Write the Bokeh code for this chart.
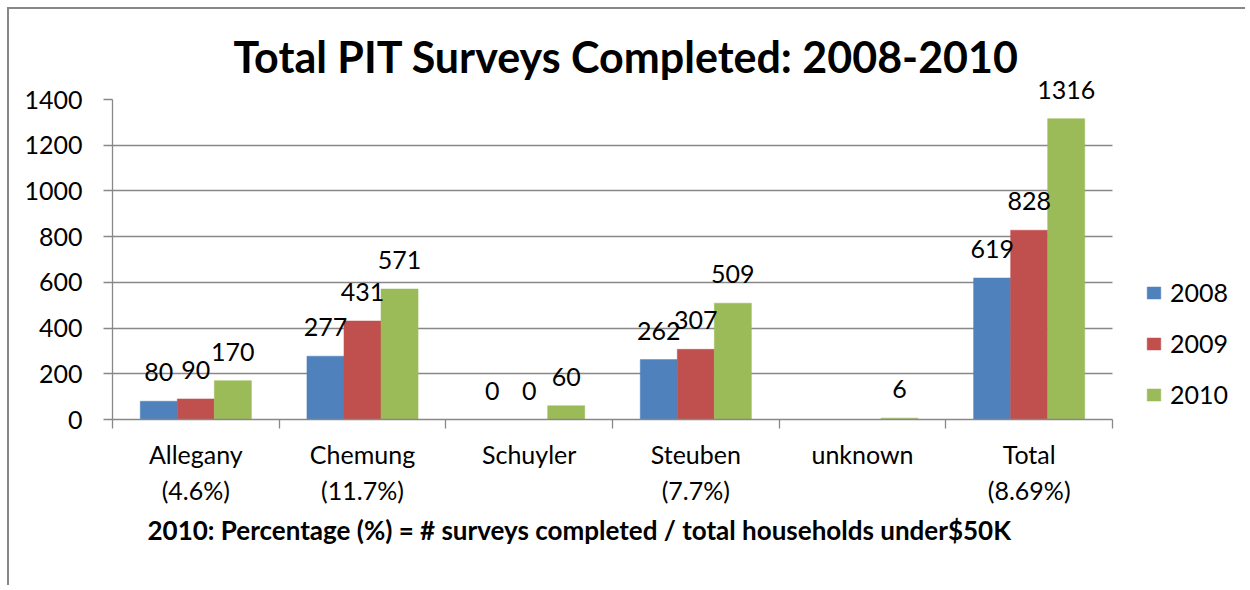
from bokeh.plotting import figure
from bokeh.models import (Range1d, FixedTicker, Legend, LegendItem, Title, ColumnDataSource)
from bokeh.core.properties import value
from bokeh.embed import file_html
from bokeh.resources import INLINE

# ---------------- data ----------------
categories = ["Allegany", "Chemung", "Schuyler", "Steuben", "unknown", "Total"]
percentages = ["(4.6%)", "(11.7%)", "", "(7.7%)", "", "(8.69%)"]
years = ["2008", "2009", "2010"]
s2008 = [80, 277, 0, 262, None, 619]
s2009 = [90, 431, 0, 307, None, 828]
s2010 = [170, 571, 60, 509, 6, 1316]
y_ticks = [0, 200, 400, 600, 800, 1000, 1200, 1400]
title_text = "Total PIT Surveys Completed: 2008-2010"
subtitle_text = "2010: Percentage (%) = # surveys completed / total households under$50K"

series = [s2008, s2009, s2010]
colors = ["#4F81BD", "#C0504D", "#9BBB59"]
FONT = "Lato"
GRAY = "#888888"

n = len(categories)
bw = 1 / 4.5  # bar width (gap width 150%)

W, H = 1238, 578
LEFT, TOP, BOTTOM = 103, 90, 168
PLOT_PX = 1000           # pixel width of the category area
frame_px = W - LEFT      # frame extends to the right edge to host the legend

p = figure(width=W, height=H, x_range=Range1d(0, n * frame_px / PLOT_PX), y_range=Range1d(0, 1400),
           output_backend="svg", toolbar_location=None,
           min_border_left=LEFT, min_border_right=0, min_border_top=TOP, min_border_bottom=BOTTOM)
p.styles = {"border-top": "2px solid #878787", "border-left": "2px solid #878787",
            "margin-left": "7px", "margin-top": "7px"}
p.outline_line_color = None
p.background_fill_color = "white"
p.border_fill_color = "white"

# title (above)
p.title = Title(text=title_text, align="left", offset=121, standoff=36,
                text_font=FONT, text_font_size="43px", text_font_style="bold", text_color="black")

# y axis
p.yaxis.ticker = FixedTicker(ticks=y_ticks, minor_ticks=[])
p.yaxis.major_tick_out = 9
p.yaxis.major_tick_in = 0
p.yaxis.major_tick_line_color = GRAY
p.yaxis.major_tick_line_width = 1.3
p.yaxis.axis_line_color = GRAY
p.yaxis.axis_line_width = 1.3
p.yaxis.minor_tick_line_color = None
p.yaxis.major_label_text_font = FONT
p.yaxis.major_label_text_font_size = "25px"
p.yaxis.major_label_text_color = "black"
p.yaxis.major_label_standoff = 21

# horizontal grid limited to the category area
p.xgrid.visible = False
grid = p.ygrid[0]
grid.ticker = FixedTicker(ticks=y_ticks)
if "cross_bounds" in grid.properties():
    grid.cross_bounds = (0, n)
    grid.grid_line_color = GRAY
    grid.grid_line_width = 1.3
else:
    grid.visible = False
    p.segment(x0=[0] * len(y_ticks), x1=[n] * len(y_ticks), y0=y_ticks, y1=y_ticks,
              line_color=GRAY, line_width=1.3, level="underlay")

# x axis: labels at category centres, tick marks at category boundaries
centers = [i + 0.5 for i in range(n)]
p.xaxis.bounds = (0, n)
p.xaxis.ticker = FixedTicker(ticks=centers, minor_ticks=list(range(n + 1)))
p.xaxis.major_label_overrides = {
    c: (cat + ("\n" + pct if pct else "")) for c, cat, pct in zip(centers, categories, percentages)
}
p.xaxis.major_tick_line_color = None
p.xaxis.minor_tick_out = 9
p.xaxis.minor_tick_in = 0
p.xaxis.minor_tick_line_color = GRAY
p.xaxis.minor_tick_line_width = 1.3
p.xaxis.axis_line_color = GRAY
p.xaxis.axis_line_width = 1.3
p.xaxis.major_label_text_font = FONT
p.xaxis.major_label_text_font_size = "25px"
p.xaxis.major_label_text_color = "black"
p.xaxis.major_label_text_line_height = 1.22
p.xaxis.major_label_standoff = 10

p.add_layout(Title(text=subtitle_text, align="left", offset=35, standoff=6,
                   text_font=FONT, text_font_size="26px", text_font_style="bold",
                   text_color="black"), "below")

# bars and value labels
items = []
for j, (yr, vals, col) in enumerate(zip(years, series, colors)):
    xs, tops, labs = [], [], []
    for i, v in enumerate(vals):
        if v is None:
            continue
        xs.append(i + 0.5 + (j - 1) * bw)
        tops.append(v)
        labs.append(str(v))
    src = ColumnDataSource(dict(x=xs, top=tops, label=labs))
    r = p.vbar(x="x", top="top", width=bw, source=src, fill_color=col, line_color=col, line_width=0.5)
    p.text(x="x", y="top", text="label", source=src, text_align="center",
           text_baseline="alphabetic", y_offset=-29, text_font=value(FONT),
           text_font_size="25px", text_color="black", level="overlay")
    items.append(LegendItem(label=yr, renderers=[r]))

legend = Legend(items=items, location=(1033, 10), orientation="vertical",
                glyph_width=17, glyph_height=15, label_standoff=8, spacing=21,
                padding=0, margin=0, border_line_color=None, background_fill_alpha=0,
                label_text_font=FONT, label_text_font_size="25px", label_text_color="black")
p.add_layout(legend, "center")

open("out.html", "w").write(file_html(p, INLINE))
